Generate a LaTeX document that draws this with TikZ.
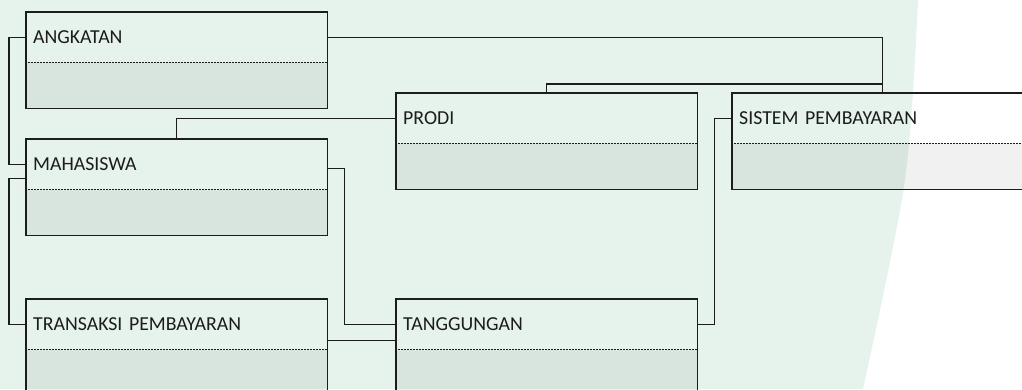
\documentclass[tikz,border=0pt]{standalone}
\usepackage{fontspec}
\setmainfont{Carlito}
\usepackage{tikz}
\usetikzlibrary{positioning}
\definecolor{mint}{HTML}{E5F3EC}
\definecolor{ink}{HTML}{1C1C1C}

\begin{document}
\begin{tikzpicture}[x=1pt,y=-1pt,
  head/.style={anchor=north west,inner xsep=7pt,inner ysep=0pt,minimum height=50pt,text width=287pt,align=left,font=\fontsize{19.8}{23}\selectfont,text=ink},
  body/.style={fill=black,fill opacity=0.055,inner sep=0pt,minimum width=301pt,minimum height=46pt},
  frame/.style={draw=ink,line width=1.2pt},
  divider/.style={draw=ink,line width=0.9pt,dash pattern=on 1pt off 0.5pt},
  link/.style={draw=ink,line width=1.2pt}]
\useasboundingbox(0,0)rectangle(1022,389);
\clip(0,0)rectangle(1022,389);
% background tint
\fill[mint](0,0)--plot[smooth]coordinates{(918,0)(905,180)(863,389)}--(0,389)--cycle;
% tables
\node[head](angkatan)at(26,12){ANGKATAN};
\node[body,below=0pt of angkatan](angkatanb){};
\node[head](mahasiswa)at(26,139){MAHASISWA};
\node[body,below=0pt of mahasiswa](mahasiswab){};
\node[head](transaksi)at(26,299){TRANSAKSI PEMBAYARAN};
\node[body,below=0pt of transaksi](transaksib){};
\node[head](prodi)at(396,93){PRODI};
\node[body,below=0pt of prodi](prodib){};
\node[head](tanggungan)at(396,299){TANGGUNGAN};
\node[body,below=0pt of tanggungan](tanggunganb){};
\node[head](sistem)at(732,93){SISTEM PEMBAYARAN};
\node[body,below=0pt of sistem](sistemb){};
\draw[frame](angkatan.north west)rectangle(angkatanb.south east);
\draw[frame](mahasiswa.north west)rectangle(mahasiswab.south east);
\draw[frame](transaksi.north west)rectangle(transaksib.south east);
\draw[frame](prodi.north west)rectangle(prodib.south east);
\draw[frame](tanggungan.north west)rectangle(tanggunganb.south east);
\draw[frame](sistem.north west)rectangle(sistemb.south east);
\draw[divider](angkatan.south west)--(angkatan.south east);
\draw[divider](mahasiswa.south west)--(mahasiswa.south east);
\draw[divider](transaksi.south west)--(transaksi.south east);
\draw[divider](prodi.south west)--(prodi.south east);
\draw[divider](tanggungan.south west)--(tanggungan.south east);
\draw[divider](sistem.south west)--(sistem.south east);
% relations
\draw[link](angkatan.west)--++(-17,0)|-(mahasiswa.west);
\draw[link]([yshift=-14pt]mahasiswa.west)--++(-17,0)|-(transaksi.west);
\draw[link](mahasiswa.north)|-(prodi.west);
\draw[link](angkatan.east)-|(sistem.north);
\draw[link](prodi.north)--++(0,-9)-|(sistem.north);
\draw[link]([yshift=-4pt]mahasiswa.east)--++(17,0)|-(tanggungan.west);
\draw[link]([yshift=-16pt]transaksi.east)--([yshift=-16pt]tanggungan.west);
\draw[link](tanggungan.east)--++(17,0)|-(sistem.west);
\end{tikzpicture}
\end{document}
